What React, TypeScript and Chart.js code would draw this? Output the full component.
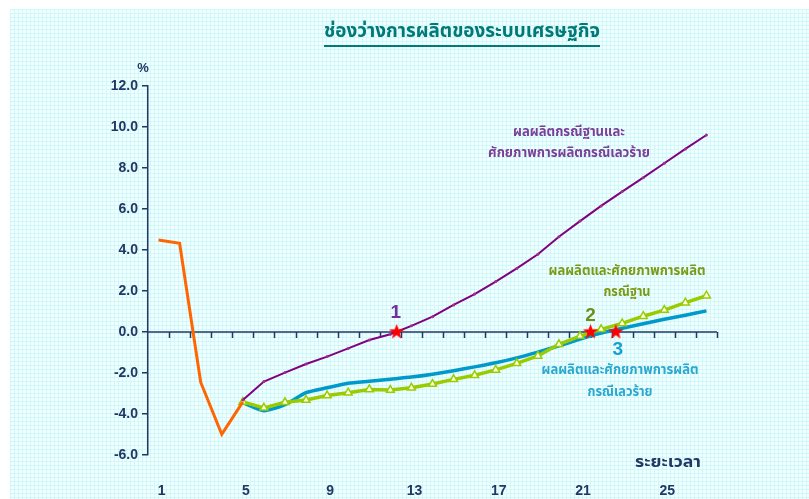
import React, { useEffect, useRef } from "react";
import { Chart, registerables } from "chart.js";

Chart.register(...registerables);

// Period index (x) for each series
const periodsActual = [1, 2, 3, 4, 5];
const periodsForecast = [5, 6, 7, 8, 9, 10, 11, 12, 13, 14, 15, 16, 17, 18, 19, 20, 21, 22, 23, 24, 25, 26, 27];

// Output gap (%) – actual path
const gapActual = [4.49, 4.33, -2.45, -4.99, -3.41];
// Base-case output with worst-case potential
const gapBaseOutputWorstPotential = [-3.32, -2.42, -1.98, -1.56, -1.2, -0.8, -0.39, -0.11, 0.3, 0.75, 1.32, 1.85, 2.46, 3.1, 3.79, 4.65, 5.41, 6.15, 6.85, 7.53, 8.23, 8.93, 9.61];
// Base case output and potential
const gapBaseCase = [-3.41, -3.7, -3.43, -3.32, -3.1, -2.96, -2.8, -2.83, -2.72, -2.54, -2.31, -2.11, -1.85, -1.53, -1.17, -0.6, -0.2, 0.13, 0.42, 0.77, 1.07, 1.43, 1.77];
// Worst case output and potential
const gapWorstCase = [-3.45, -3.84, -3.54, -2.96, -2.72, -2.5, -2.4, -2.3, -2.2, -2.06, -1.89, -1.7, -1.5, -1.26, -0.98, -0.68, -0.35, -0.05, 0.18, 0.4, 0.62, 0.82, 1.03];

// Points where each gap closes
const closePointX = [12.3, 21.5, 22.7];
const closePointY = [0, 0, 0];
const closePointLabels = ["1", "2", "3"];

const xTickLabels = [1, 5, 9, 13, 17, 21, 25];
const yMin = -6;
const yMax = 12;
const yStep = 2;
const xMin = 0.5;
const xMax = 27.5;

const titleText = "ช่องว่างการผลิตของระบบเศรษฐกิจ";
const yUnitText = "%";
const xAxisText = "ระยะเวลา";
const notePurple = ["ผลผลิตกรณีฐานและ", "ศักยภาพการผลิตกรณีเลวร้าย"];
const noteGreen = ["ผลผลิตและศักยภาพการผลิต", "กรณีฐาน"];
const noteCyan = ["ผลผลิตและศักยภาพการผลิต", "กรณีเลวร้าย"];

const NAVY = "#1F3864";
const LATIN_FONT = "'Liberation Sans', Arial, sans-serif";
const THAI_FONT = '"Noto Sans Thai", "Noto Sans Thai UI", Tahoma, Loma, Garuda, "Noto Sans", "DejaVu Sans", sans-serif';

const toPoints = (xs: number[], ys: number[]) => xs.map((x, i) => ({ x, y: ys[i] }));

function makeStar(size: number): HTMLCanvasElement {
  const c = document.createElement("canvas");
  c.width = size;
  c.height = size;
  const ctx = c.getContext("2d")!;
  const cx = size / 2;
  const cy = size / 2;
  const R = size / 2 - 0.5;
  const r = R * 0.42;
  ctx.beginPath();
  for (let i = 0; i < 10; i++) {
    const a = -Math.PI / 2 + (i * Math.PI) / 5;
    const rad = i % 2 === 0 ? R : r;
    const px = cx + rad * Math.cos(a);
    const py = cy + rad * Math.sin(a);
    if (i === 0) ctx.moveTo(px, py);
    else ctx.lineTo(px, py);
  }
  ctx.closePath();
  ctx.fillStyle = "#FF0000";
  ctx.fill();
  return c;
}

function drawFitted(
  ctx: CanvasRenderingContext2D,
  text: string,
  cx: number,
  cy: number,
  width: number,
  font: string,
  color: string
) {
  ctx.save();
  ctx.font = font;
  ctx.fillStyle = color;
  ctx.textAlign = "center";
  ctx.textBaseline = "middle";
  const w = ctx.measureText(text).width || 1;
  const sx = width / w;
  ctx.translate(cx, cy);
  ctx.scale(sx, 1);
  ctx.fillText(text, 0, 0);
  ctx.restore();
}

const backgroundPlugin = {
  id: "panelBackground",
  beforeDraw(chart: any) {
    const { ctx, width, height } = chart;
    ctx.save();
    ctx.fillStyle = "#FFFFFF";
    ctx.fillRect(0, 0, width, height);
    const x0 = 10;
    const y0 = 9;
    ctx.fillStyle = "#F0FFFF";
    ctx.fillRect(x0, y0, width - x0, height - y0);
    ctx.strokeStyle = "#D2F7F8";
    ctx.lineWidth = 1;
    ctx.beginPath();
    for (let x = x0 + 0.5; x < width; x += 4) {
      ctx.moveTo(x, y0);
      ctx.lineTo(x, height);
    }
    for (let y = y0 + 0.5; y < height; y += 4) {
      ctx.moveTo(x0, y);
      ctx.lineTo(width, y);
    }
    ctx.stroke();
    ctx.restore();
  },
};

const zeroLinePlugin = {
  id: "zeroLine",
  beforeDatasetsDraw(chart: any) {
    const { ctx, scales } = chart;
    const xs = scales.x;
    const ys = scales.y;
    const y0 = ys.getPixelForValue(0);
    ctx.save();
    ctx.strokeStyle = NAVY;
    ctx.lineWidth = 1.5;
    ctx.beginPath();
    ctx.moveTo(xs.getPixelForValue(xMin), y0);
    ctx.lineTo(xs.getPixelForValue(xMax), y0);
    ctx.stroke();
    ctx.beginPath();
    for (let v = xMin + 1; v <= xMax + 0.001; v += 1) {
      const px = Math.round(xs.getPixelForValue(v)) + 0.5;
      ctx.moveTo(px, y0);
      ctx.lineTo(px, y0 + 6);
    }
    ctx.stroke();
    ctx.restore();
  },
};

const textPlugin = {
  id: "chartTexts",
  afterDraw(chart: any) {
    const { ctx, scales } = chart;
    const xs = scales.x;
    const ys = scales.y;

    // title with underline
    drawFitted(ctx, titleText, 462, 33, 276, `bold 20px ${THAI_FONT}`, "#007A78");
    ctx.save();
    ctx.strokeStyle = "#007A78";
    ctx.lineWidth = 2;
    ctx.beginPath();
    ctx.moveTo(324, 46);
    ctx.lineTo(600, 46);
    ctx.stroke();
    ctx.restore();

    // unit and axis captions
    ctx.save();
    ctx.font = `bold 13px ${LATIN_FONT}`;
    ctx.fillStyle = NAVY;
    ctx.textAlign = "center";
    ctx.textBaseline = "middle";
    ctx.fillText(yUnitText, 143, 68);
    ctx.restore();
    drawFitted(ctx, xAxisText, 668, 464, 66, `bold 15px ${THAI_FONT}`, NAVY);

    // series notes
    drawFitted(ctx, notePurple[0], 569, 133, 112, `bold 14px ${THAI_FONT}`, "#7B3F98");
    drawFitted(ctx, notePurple[1], 569, 154, 162, `bold 14px ${THAI_FONT}`, "#7B3F98");
    drawFitted(ctx, noteGreen[0], 627, 272, 157, `bold 14px ${THAI_FONT}`, "#7A9A16");
    drawFitted(ctx, noteGreen[1], 627, 293, 47, `bold 14px ${THAI_FONT}`, "#7A9A16");
    drawFitted(ctx, noteCyan[0], 620, 371, 157, `bold 14px ${THAI_FONT}`, "#2AA8D0");
    drawFitted(ctx, noteCyan[1], 620, 393, 65, `bold 14px ${THAI_FONT}`, "#2AA8D0");

    // numbers beside the closing points
    const numColors = ["#7030A0", "#6E8E1A", "#1AA0D0"];
    const numOffsets = [-19, -16, 18];
    const numDx = [-1, 0, 2];
    ctx.save();
    ctx.font = `bold 19px ${LATIN_FONT}`;
    ctx.textAlign = "center";
    ctx.textBaseline = "middle";
    closePointLabels.forEach((t, i) => {
      ctx.fillStyle = numColors[i];
      const px = xs.getPixelForValue(closePointX[i]) + numDx[i];
      const py = ys.getPixelForValue(closePointY[i]) + numOffsets[i];
      ctx.fillText(t, px, py);
    });
    ctx.restore();
  },
};

export default function App() {
  const canvasRef = useRef<HTMLCanvasElement | null>(null);

  useEffect(() => {
    if (!canvasRef.current) return;
    const star = makeStar(17);

    const chart = new Chart(canvasRef.current, {
      type: "line",
      data: {
        datasets: [
          {
            label: "closing points",
            type: "scatter",
            data: toPoints(closePointX, closePointY),
            pointStyle: star,
            pointRadius: 8,
            showLine: false,
          } as any,
          {
            label: "actual",
            data: toPoints(periodsActual, gapActual),
            borderColor: "#FF6600",
            borderWidth: 3,
            pointRadius: 0,
            tension: 0,
          },
          {
            label: notePurple.join(""),
            data: toPoints(periodsForecast, gapBaseOutputWorstPotential),
            borderColor: "#800080",
            backgroundColor: "#A0308A",
            borderWidth: 2,
            pointRadius: 1.5,
            pointBorderWidth: 0,
            tension: 0,
          },
          {
            label: noteGreen.join(""),
            data: toPoints(periodsForecast, gapBaseCase),
            borderColor: "#99CC00",
            borderWidth: 3.5,
            pointStyle: "triangle",
            pointRadius: 4.5,
            pointBackgroundColor: "#FFFFE8",
            pointBorderColor: "#99CC00",
            pointBorderWidth: 1.5,
            tension: 0,
          },
          {
            label: noteCyan.join(""),
            data: toPoints(periodsForecast, gapWorstCase),
            borderColor: "#0099CC",
            borderWidth: 3.5,
            pointRadius: 0,
            tension: 0.2,
          },
        ],
      },
      options: {
        responsive: false,
        animation: false,
        layout: { padding: { left: 0, right: 92, top: 86, bottom: 0 } },
        plugins: {
          legend: { display: false },
          tooltip: { enabled: false },
          title: { display: false },
        },
        scales: {
          x: {
            type: "linear",
            min: xMin,
            max: xMax,
            grid: { display: false },
            border: { display: false },
            ticks: {
              color: NAVY,
              font: { family: LATIN_FONT, size: 14, weight: "bold" },
              padding: 20,
              labelOffset: 3,
              maxRotation: 0,
            },
            afterBuildTicks: (scale: any) => {
              scale.ticks = xTickLabels.map((v) => ({ value: v }));
            },
            afterFit: (scale: any) => {
              scale.height = 44;
            },
          },
          y: {
            min: yMin,
            max: yMax,
            grid: {
              drawOnChartArea: false,
              color: NAVY,
              tickLength: 6,
              lineWidth: 1.5,
            },
            border: { color: NAVY, width: 1.5 },
            ticks: {
              stepSize: yStep,
              color: NAVY,
              padding: 4,
              font: { family: LATIN_FONT, size: 14, weight: "bold" },
              callback: (v: any) => Number(v).toFixed(1),
            },
            afterFit: (scale: any) => {
              scale.width = 148;
            },
          },
        },
      },
      plugins: [backgroundPlugin, zeroLinePlugin, textPlugin],
    });

    return () => chart.destroy();
  }, []);

  return (
    <div style={{ position: "absolute", left: 0, top: 0, width: 809, height: 499 }}>
      <canvas ref={canvasRef} width={809} height={499} style={{ display: "block" }} />
    </div>
  );
}
